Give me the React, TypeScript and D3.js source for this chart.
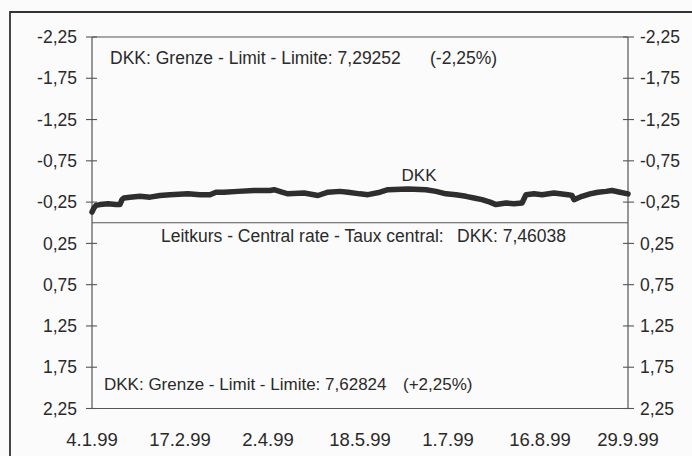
import React from "react";
import * as d3 from "d3";

const dates: string[] = [
  "1999-01-04","1999-01-05","1999-01-06","1999-01-08","1999-01-12","1999-01-16","1999-01-18","1999-01-19","1999-01-20","1999-01-23","1999-01-28",
  "1999-02-02","1999-02-07","1999-02-12","1999-02-21","1999-02-27","1999-03-04","1999-03-07","1999-03-11","1999-03-18","1999-03-26",
  "1999-04-03","1999-04-05","1999-04-09","1999-04-12","1999-04-20","1999-04-27","1999-05-02","1999-05-08","1999-05-12","1999-05-18",
  "1999-05-22","1999-05-28","1999-06-01","1999-06-11","1999-06-20","1999-06-25","1999-06-30","1999-07-05","1999-07-10","1999-07-14",
  "1999-07-18","1999-07-22","1999-07-25","1999-07-30","1999-08-03","1999-08-07","1999-08-09","1999-08-13","1999-08-17","1999-08-23",
  "1999-08-30","1999-09-01","1999-09-02","1999-09-04","1999-09-06","1999-09-10","1999-09-14","1999-09-18","1999-09-21","1999-09-25","1999-09-29"
];
const dkk: number[] = [
  -0.13,-0.18,-0.21,-0.22,-0.23,-0.22,-0.22,-0.28,-0.30,-0.31,-0.32,
  -0.31,-0.33,-0.34,-0.35,-0.34,-0.34,-0.37,-0.37,-0.38,-0.39,
  -0.39,-0.40,-0.37,-0.35,-0.36,-0.33,-0.37,-0.38,-0.37,-0.35,
  -0.34,-0.37,-0.40,-0.41,-0.40,-0.38,-0.35,-0.34,-0.32,-0.30,
  -0.28,-0.25,-0.22,-0.24,-0.23,-0.24,-0.34,-0.35,-0.34,-0.36,
  -0.34,-0.33,-0.28,-0.30,-0.32,-0.35,-0.37,-0.38,-0.39,-0.37,-0.35
];
const yTicks: number[] = [-2.25, -1.75, -1.25, -0.75, -0.25, 0.25, 0.75, 1.25, 1.75, 2.25];
const xTickDates: string[] = ["1999-01-04","1999-02-17","1999-04-02","1999-05-18","1999-07-01","1999-08-16","1999-09-29"];
const xTickLabels: string[] = ["4.1.99","17.2.99","2.4.99","18.5.99","1.7.99","16.8.99","29.9.99"];
const upperText = "DKK: Grenze - Limit - Limite: 7,29252";
const upperPct = "(-2,25%)";
const lowerText = "DKK: Grenze - Limit - Limite: 7,62824";
const lowerPct = "(+2,25%)";
const centralText = "Leitkurs - Central rate - Taux central:";
const centralValue = "DKK: 7,46038";
const seriesName = "DKK";

const parse = d3.timeParse("%Y-%m-%d");

export default function App() {
  const W = 692, H = 456;
  const left = 92, right = 628, top = 37, bottom = 408.5;
  const x = d3.scaleTime()
    .domain([parse("1999-01-04") as Date, parse("1999-09-29") as Date])
    .range([left, right]);
  const y = d3.scaleLinear().domain([-2.25, 2.25]).range([top, bottom]);
  const pts = dates.map((d, i) => ({ d: parse(d) as Date, v: dkk[i] }));
  const line = d3.line<{ d: Date; v: number }>()
    .x((p) => x(p.d))
    .y((p) => y(p.v))
    .curve(d3.curveLinear);
  const fmt = (v: number) => d3.format(".2f")(v).replace(".", ",").replace("−", "-");
  const font = "'Liberation Sans', Arial, Helvetica, sans-serif";
  const ink = "#2a2a2a";
  const axisCol = "#555";
  return (
    <svg width={W} height={H} style={{ position: "absolute", left: 0, top: 0, background: "#fbfbfb" }} fontFamily={font}>
      <rect x={0} y={0} width={W} height={H} fill="#fbfbfb" />
      <path d={`M10,${H + 5} V12 H${W + 5}`} fill="none" stroke="#333" strokeWidth={1.8} />
      <line x1={left} x2={left} y1={y(-2.25)} y2={y(2.25)} stroke={axisCol} strokeWidth={1.2} />
      <line x1={right} x2={right} y1={y(-2.25)} y2={y(2.25)} stroke={axisCol} strokeWidth={1.2} />
      <line x1={left} x2={right} y1={y(-2.25)} y2={y(-2.25)} stroke={axisCol} strokeWidth={1.2} />
      <line x1={left} x2={right} y1={y(2.25)} y2={y(2.25)} stroke={axisCol} strokeWidth={1.2} />
      <line x1={left} x2={right} y1={y(0)} y2={y(0)} stroke={axisCol} strokeWidth={1.2} />
      {yTicks.map((t) => (
        <g key={t}>
          <line x1={left - 6} x2={left + 5} y1={y(t)} y2={y(t)} stroke={axisCol} strokeWidth={1.1} />
          <line x1={right - 5} x2={right + 6} y1={y(t)} y2={y(t)} stroke={axisCol} strokeWidth={1.1} />
          <text x={left - 15} y={y(t)} dy="0.35em" textAnchor="end" fontSize={17.5} fill={ink}>{fmt(t)}</text>
          <text x={right + 12} y={y(t)} dy="0.35em" textAnchor="start" fontSize={17.5} fill={ink}>{fmt(t)}</text>
        </g>
      ))}
      {xTickDates.map((d, i) => (
        <text key={d} x={x(parse(d) as Date)} y={445.5} textAnchor="middle" fontSize={18.5} fill={ink}>{xTickLabels[i]}</text>
      ))}
      <path d={line(pts) || ""} fill="none" stroke="#2e2e2e" strokeWidth={5.5} strokeLinejoin="round" strokeLinecap="round" />
      <text x={419} y={180.5} textAnchor="middle" fontSize={17} fill={ink}>{seriesName}</text>
      <text x={110} y={63.5} fontSize={17.5} fill={ink}>{upperText}</text>
      <text x={430} y={63.5} fontSize={17.5} fill={ink}>{upperPct}</text>
      <text x={161} y={241.5} fontSize={17.5} fill={ink}>{centralText}</text>
      <text x={457} y={241.5} fontSize={17.5} fill={ink}>{centralValue}</text>
      <text x={104} y={389.5} fontSize={17} fill={ink}>{lowerText}</text>
      <text x={403} y={389.5} fontSize={17} fill={ink}>{lowerPct}</text>
    </svg>
  );
}
